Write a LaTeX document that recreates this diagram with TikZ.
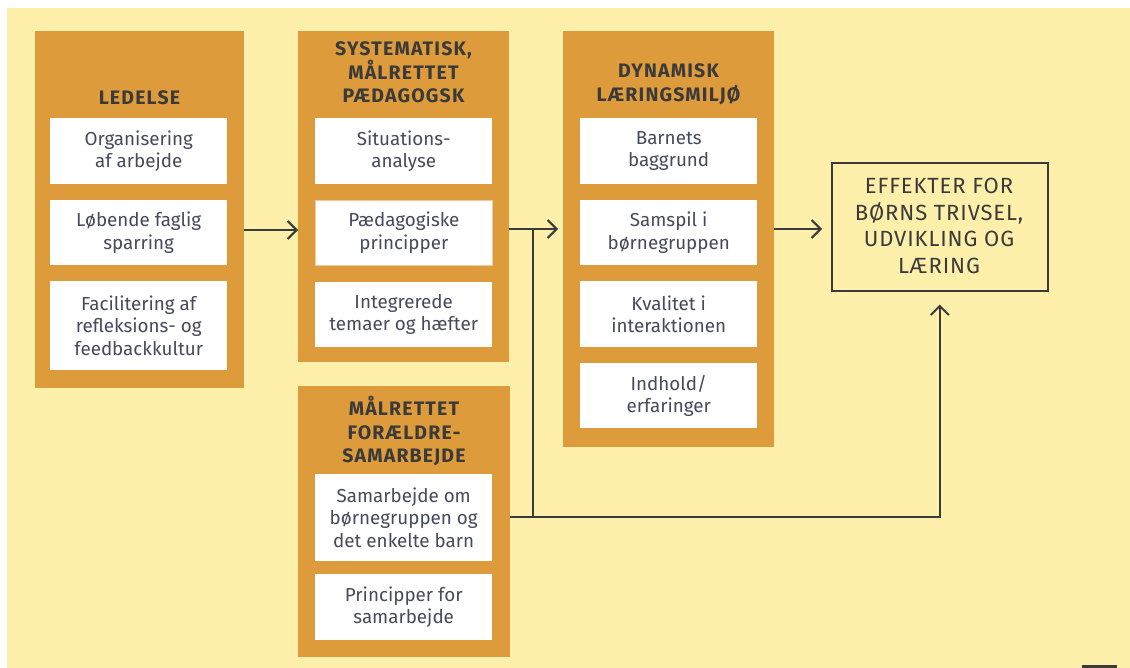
\documentclass[tikz,border=0pt]{standalone}
\usepackage{fontspec}
\setmainfont{Fira Sans}
\newfontfamily\headfont[LetterSpace=6]{Fira Sans}
\newfontfamily\effectfont[LetterSpace=4]{Fira Sans}
\usetikzlibrary{arrows.meta,calc}
\definecolor{paper}{HTML}{FEF0AA}
\definecolor{ochre}{HTML}{DD9B3B}
\definecolor{ink}{HTML}{3A3A3A}
\definecolor{bodyink}{HTML}{454A5C}
\definecolor{rim}{HTML}{EFCB9C}
\begin{document}
\begin{tikzpicture}[x=1pt,y=-1pt,
  group/.style={fill=ochre,draw=none,anchor=north west,inner sep=0pt},
  itembox/.style={fill=white,draw=none,anchor=north west,inner sep=0pt,
    minimum width=177pt},
  itemtext/.style={align=center,text=bodyink,inner sep=0pt,
    font=\fontsize{18.8}{22.5}\selectfont},
  headtext/.style={align=center,text=ink,inner sep=0pt,
    font=\headfont\bfseries\fontsize{19.5}{23.5}\selectfont},
  link/.style={draw=ink,line width=2pt},
  arr/.style={link,-{Straight Barb[length=9pt,width=18pt,line width=2pt]}}]

% page and background
\fill[white] (0,0) rectangle (1130,668);
\fill[paper] (7,8) rectangle (1130,668);
\fill[ink] (1082,665) rectangle (1117,668);
\useasboundingbox (0,0) rectangle (1130,668);

% group panels
\node[group,minimum width=209pt,minimum height=357pt] (led) at (35,31) {};
\node[group,minimum width=211pt,minimum height=331pt] (sys) at (298,31) {};
\node[group,minimum width=212pt,minimum height=271pt] (mal) at (298,386) {};
\node[group,minimum width=211pt,minimum height=416pt] (dyn) at (563,31) {};

% outcome box
\node[draw=ink,line width=1.6pt,fill=none,anchor=north west,inner sep=0pt,
  minimum width=216pt,minimum height=128pt] (eff) at (831,162) {};
\node[align=center,text=ink,inner sep=0pt,
  font=\effectfont\fontsize{22}{26.5}\selectfont] (efftxt) at (939,226)
  {EFFEKTER FOR\\BØRNS TRIVSEL,\\UDVIKLING OG\\LÆRING};

% panel headings
\node[headtext] (ledh) at (139.5,98) {LEDELSE};
\node[headtext] (sysh) at (403.5,72.5) {SYSTEMATISK,\\MÅLRETTET\\PÆDAGOGSK};
\node[headtext] (malh) at (404,431) {MÅLRETTET\\FORÆLDRE-\\SAMARBEJDE};
\node[headtext] (dynh) at (668.5,84) {DYNAMISK\\LÆRINGSMILJØ};

% items: Ledelse
\node[itembox,minimum height=66pt] (led1) at (50,118) {};
\node[itembox,minimum height=65pt] (led2) at (50,200) {};
\node[itembox,minimum height=89pt] (led3) at (50,281) {};
\node[itemtext] at (led1) {Organisering\\af arbejde};
\node[itemtext] at (led2) {Løbende faglig\\sparring};
\node[itemtext] at (led3) {Facilitering af\\refleksions- og\\feedbackkultur};

% items: systematisk pædagogik
\node[itembox,minimum height=66pt] (sys1) at (315,118) {};
\node[itembox,minimum height=65pt,draw=rim,line width=0.8pt] (sys2) at (315,200) {};
\node[itembox,minimum height=65pt] (sys3) at (315,282) {};
\node[itemtext] at (sys1) {Situations-\\analyse};
\node[itemtext] at (sys2) {Pædagogiske\\principper};
\node[itemtext] at (sys3) {Integrerede\\temaer og hæfter};

% items: forældresamarbejde
\node[itembox,minimum height=87pt] (mal1) at (315,474) {};
\node[itembox,minimum height=66pt] (mal2) at (315,574) {};
\node[itemtext] at (mal1) {Samarbejde om\\børnegruppen og\\det enkelte barn};
\node[itemtext] at (mal2) {Principper for\\samarbejde};

% items: læringsmiljø
\node[itembox,minimum height=66pt] (dyn1) at (580,118) {};
\node[itembox,minimum height=65pt] (dyn2) at (580,200) {};
\node[itembox,minimum height=66pt] (dyn3) at (580,281) {};
\node[itembox,minimum height=65pt] (dyn4) at (580,363) {};
\node[itemtext] at (dyn1) {Barnets\\baggrund};
\node[itemtext] at (dyn2) {Samspil i\\børnegruppen};
\node[itemtext] at (dyn3) {Kvalitet i\\interaktionen};
\node[itemtext] at (dyn4) {Indhold/\\erfaringer};

% connectors
\coordinate (jtop) at (533,229);
\coordinate (jbot) at (533,517);
\draw[arr] (led.east |- 0,230) -- (sys.west |- 0,230);
\draw[arr,shorten >=5pt] (sys.east |- jtop) -- (dyn.west |- jtop);
\draw[arr,shorten >=9pt] (dyn.east |- jtop) -- (eff.west |- jtop);
\draw[link] (jtop) -- (jbot);
\draw[arr,shorten >=13pt] (mal.east |- jbot) -| (eff.south);
\end{tikzpicture}
\end{document}
